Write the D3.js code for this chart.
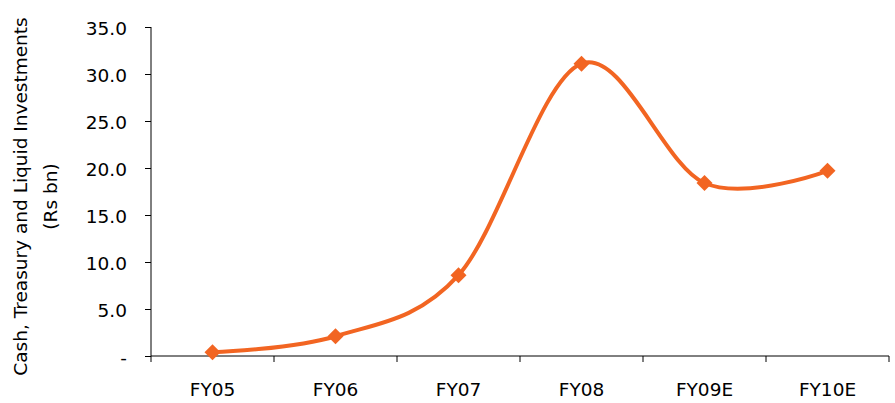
<!DOCTYPE html>
<html><head><meta charset="utf-8">
<script src="https://cdn.jsdelivr.net/npm/d3@7"></script>
<style>body{margin:0;background:#fff}svg{display:block}</style>
</head><body>
<script>
const categories = ["FY05","FY06","FY07","FY08","FY09E","FY10E"];
const values = [0.4, 2.1, 8.6, 31.1, 18.4, 19.7];
const yTicks = [0,5,10,15,20,25,30,35];
const yTitle = ["Cash, Treasury and Liquid Investments", "(Rs bn)"];

(function(){
const W=895,H=403;
const svg=d3.select("body").append("svg").attr("width",W).attr("height",H);
const pL=151,pR=889,pT=27,pB=356;
const x=d3.scaleBand().domain(categories).range([pL,pR]);
const y=d3.scaleLinear().domain([0,35]).range([pB,pT]);
const font="DejaVu Sans, Verdana, sans-serif";
const fs=18.5;

const ya=svg.append("g").attr("transform",`translate(${pL},0)`)
  .call(d3.axisLeft(y).tickValues(yTicks).tickSize(6).tickPadding(18)
    .tickFormat(d=>d===0?"-":d3.format(".1f")(d)));
const xa=svg.append("g").attr("transform",`translate(0,${pB})`)
  .call(d3.axisBottom(x).tickSize(0).tickPadding(27));
[ya,xa].forEach(g=>{g.attr("font-size",fs).attr("font-family",font);
  g.selectAll("path,line").attr("stroke","#000").attr("stroke-width",1);
  g.selectAll("text").attr("font-family",font).attr("font-size",fs).attr("fill","#000");});
ya.selectAll(".tick text").attr("dy","0.4em");
ya.select(".domain").attr("d",`M0,${pT}V${pB}`);
xa.select(".domain").attr("d",`M${pL},0H${pR}`);
xa.selectAll(".bt").data(categories.concat(["end"])).enter().append("line")
  .attr("x1",(d,i)=>pL+i*x.step()).attr("x2",(d,i)=>pL+i*x.step())
  .attr("y1",0).attr("y2",6).attr("stroke","#000");

const t=svg.append("text").attr("transform",`translate(27,${(pT+pB)/2+5}) rotate(-90)`)
  .attr("text-anchor","middle").attr("font-family",font).attr("font-size",fs).attr("fill","#000");
t.append("tspan").attr("x",0).attr("dy",0).text(yTitle[0]);
t.append("tspan").attr("x",0).attr("dy",30).text(yTitle[1]);

const color="#F26522";
const pts=categories.map((c,i)=>[x(c)+x.bandwidth()/2,y(values[i])]);
svg.append("path").attr("d",d3.line().curve(d3.curveCardinal.tension(0))(pts))
  .attr("fill","none").attr("stroke",color).attr("stroke-width",4);
svg.selectAll(".m").data(pts).enter().append("path")
  .attr("transform",d=>`translate(${d[0]},${d[1]})`)
  .attr("d","M0,-8L8,0L0,8L-8,0Z").attr("fill",color);
})();
</script>
</body></html>
